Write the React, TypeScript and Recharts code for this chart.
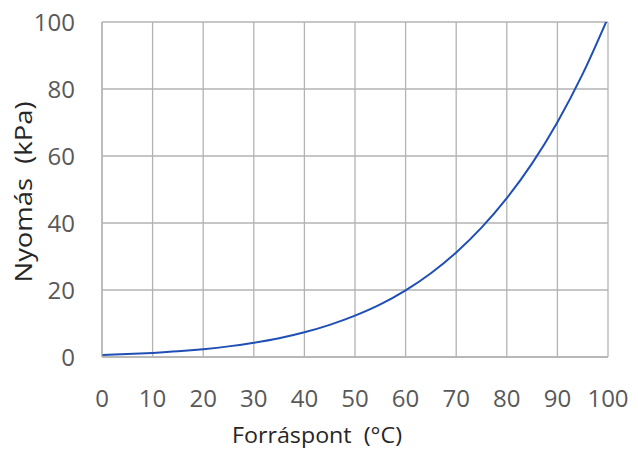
import { LineChart, Line, XAxis, YAxis, CartesianGrid, Label } from 'recharts';

// Boiling point (°C) vs vapour pressure (kPa).
const temps = [0, 5, 10, 15, 20, 25, 30, 35, 40, 45, 50, 55, 60, 65, 70, 75, 80, 85, 90, 95, 100];
const pressures = [0.61, 0.87, 1.23, 1.7, 2.34, 3.17, 4.25, 5.6, 7.38, 9.6, 12.35, 15.7, 19.9, 25.0, 31.2, 38.6, 47.4, 57.8, 70.1, 84.5, 101.3];
const xTicks = [0, 10, 20, 30, 40, 50, 60, 70, 80, 90, 100];
const yTicks = [0, 20, 40, 60, 80, 100];
const xTitle = 'Forráspont\u00a0\u00a0(°C)';
const yTitle = 'Nyomás\u00a0\u00a0(kPa)';

const data = temps.map((t, i) => ({ t, p: pressures[i] }));

const font = '"Open Sans", sans-serif';
const tickStyle = { fontSize: 24, fill: '#595959', fontFamily: font };

export default function App() {
  return (
    <div style={{ position: 'fixed', left: 0, top: 0, background: '#fff' }}>
      <LineChart width={638} height={454} data={data} margin={{ top: 22, right: 30, bottom: 0, left: 0 }}>
        <CartesianGrid stroke="#b3b3b3" strokeWidth={1.3} horizontalValues={yTicks} verticalValues={xTicks} />
        <XAxis
          dataKey="t"
          type="number"
          domain={[0, 100]}
          ticks={xTicks}
          height={97}
          tickLine={false}
          axisLine={{ stroke: '#b3b3b3', strokeWidth: 1.3 }}
          tickSize={0}
          tickMargin={33}
          tick={tickStyle}
        >
          <Label
            content={() => (
              <text
                x={317}
                y={443}
                textAnchor="middle"
                textLength={170}
                lengthAdjust="spacingAndGlyphs"
                style={{ fontSize: 21, fill: '#262626', fontFamily: font }}
              >
                {xTitle}
              </text>
            )}
          />
        </XAxis>
        <YAxis
          type="number"
          domain={[0, 100]}
          ticks={yTicks}
          width={102}
          tickLine={false}
          axisLine={{ stroke: '#b3b3b3', strokeWidth: 1.3 }}
          tickSize={0}
          tickMargin={27}
          tick={tickStyle}
          allowDataOverflow
        >
          <Label
            content={() => (
              <text
                x={32}
                y={192}
                textAnchor="middle"
                textLength={181}
                lengthAdjust="spacingAndGlyphs"
                transform="rotate(-90 32 192)"
                style={{ fontSize: 24, fill: '#262626', fontFamily: font }}
              >
                {yTitle}
              </text>
            )}
          />
        </YAxis>
        <Line
          type="monotone"
          dataKey="p"
          stroke="#1f4fb4"
          strokeWidth={2}
          dot={false}
          isAnimationActive={false}
        />
      </LineChart>
    </div>
  );
}
